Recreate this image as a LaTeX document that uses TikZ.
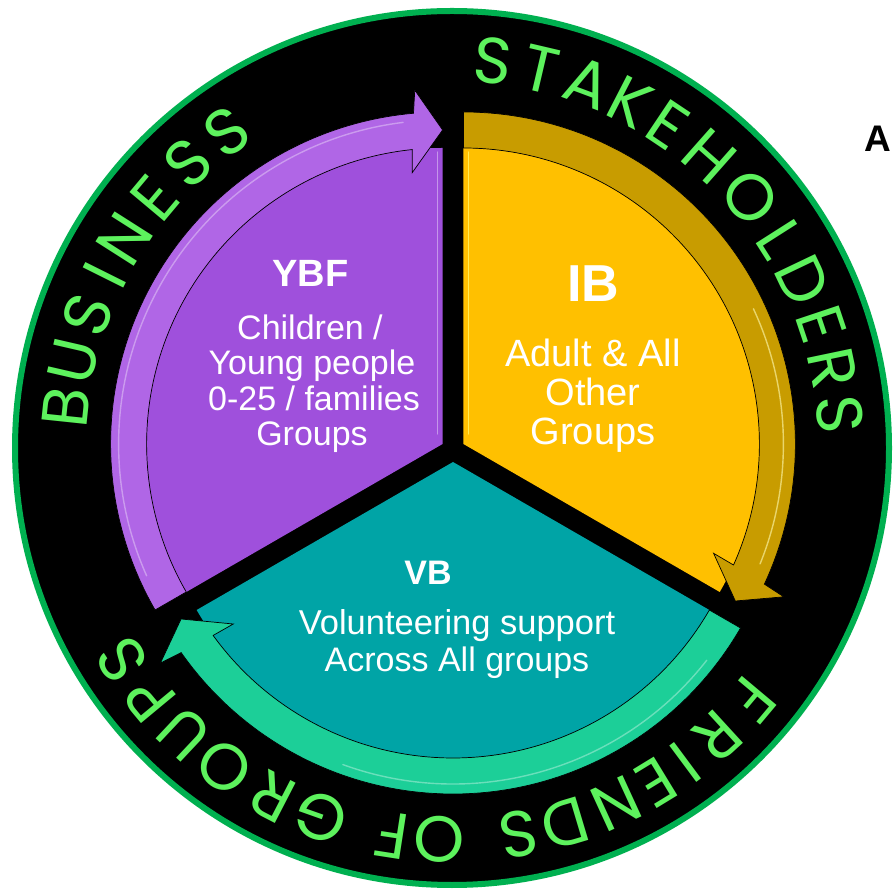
\documentclass[tikz,border=0pt]{standalone}
\usepackage{fontspec}
\setmainfont{Liberation Sans}
\newfontfamily\ringfont{Poppins}
\usetikzlibrary{calc}
\definecolor{ringgreen}{HTML}{00B050}
\definecolor{txtgreen}{HTML}{5DF25D}
\definecolor{purplefill}{HTML}{9F50DC}
\definecolor{purpleband}{HTML}{B066E6}
\definecolor{goldfill}{HTML}{FFC000}
\definecolor{goldband}{HTML}{C89C00}
\definecolor{tealfill}{HTML}{00A4A6}
\definecolor{tealband}{HTML}{1CCF98}
\newcommand\gelband[4]{%
  \path[shift={(#1)}, fill=#4, draw=black, line width=0.7pt, line join=miter]
    (#2:332) arc[start angle=#2, end angle={#3+5.03}, radius=332]
    -- ({#3+4.5}:355) -- (#3:314) -- ({#3+6.4}:273) -- ({#3+5.87}:296)
    arc[start angle={#3+5.87}, end angle=#2, radius=296] -- cycle;}
\begin{document}
\begin{tikzpicture}[x=1pt,y=1pt,
  ringletter/.style={font=\ringfont\fontsize{65}{65}\selectfont, text=txtgreen, inner sep=0pt, anchor=center},
  bodytext/.style={text=white, inner sep=0pt, anchor=base},
  glint/.style={line width=1.4pt, line cap=round}]
\useasboundingbox (0,0) rectangle (893,891);
\clip (0,0) rectangle (893,891);
\fill[white] (0,0) rectangle (893,891);
\coordinate (O) at (452,443);
\coordinate (C) at (453,441);
\coordinate (pap) at ($(C)+(150:12)$);
\coordinate (yap) at ($(C)+(30:12)$);
\coordinate (tap) at ($(C)+(270:12)$);
% disc
\fill[black] (O) circle[radius=437];
\draw[ringgreen, line width=6pt] (O) circle[radius=437];
% sectors
\fill[purplefill] (pap) -- ($(pap)+(90:296)$) arc[start angle=90, end angle=210, radius=296] -- cycle;
\fill[goldfill] (yap) -- ($(yap)+(-30:296)$) arc[start angle=-30, end angle=90, radius=296] -- cycle;
\fill[tealfill] (tap) -- ($(tap)+(210:296)$) arc[start angle=210, end angle=330, radius=296] -- cycle;
% edge glints
\draw[glint, draw=white, opacity=0.4] ($(pap)+(90:10)+(-5,0)$) -- ($(pap)+(90:292)+(-5,0)$);
\draw[glint, draw=yellow!60!white, opacity=0.8] ($(yap)+(90:10)+(5,0)$) -- ($(yap)+(90:292)+(5,0)$);
% arrow bands
\gelband{pap}{210}{90}{purpleband}
\gelband{yap}{90}{-30}{goldband}
\gelband{tap}{330}{210}{tealband}
% band glints
\draw[glint, draw=white, opacity=0.35, shift={(pap)}] (204:324) arc[start angle=204, end angle=97, radius=324];
\draw[glint, draw=yellow!30!white, opacity=0.6, shift={(yap)}] (25:320) arc[start angle=25, end angle=-22, radius=320];
\draw[glint, draw=white, opacity=0.35, shift={(tap)}] (322:322) arc[start angle=322, end angle=250, radius=322];
% purple texts
\node[bodytext, font=\bfseries\fontsize{38}{38}\selectfont] (ybf) at (310.5,604) {YBF};
\node[bodytext, font=\fontsize{34}{34}\selectfont] (p1) at (310,551) {Children /};
\node[bodytext, font=\fontsize{34}{34}\selectfont] (p2) at (312,516) {Young people};
\node[bodytext, font=\fontsize{34}{34}\selectfont] (p3) at (314,480) {0-25 / families};
\node[bodytext, font=\fontsize{34}{34}\selectfont] (p4) at (312,445) {Groups};
% yellow texts
\node[bodytext, font=\bfseries\fontsize{52}{52}\selectfont] (ib) at (593.5,589) {IB};
\node[bodytext, font=\fontsize{38}{38}\selectfont] (y1) at (593,524) {Adult \& All};
\node[bodytext, font=\fontsize{38}{38}\selectfont] (y2) at (593,485) {Other};
\node[bodytext, font=\fontsize{38}{38}\selectfont] (y3) at (593,446) {Groups};
% teal texts
\node[bodytext, font=\bfseries\fontsize{34}{34}\selectfont] (vb) at (428,306) {VB};
\node[bodytext, font=\fontsize{34.5}{34.5}\selectfont] (t1) at (457,256) {Volunteering support};
\node[bodytext, font=\fontsize{34}{34}\selectfont] (t2) at (457,219) {Across All groups};
% ring texts
\foreach \ch/\a [count=\i] in {B/174,U/167,S/160,I/153.5,N/147.5,E/140,S/132.8,S/125.5}
  \node[ringletter, rotate=\a-90] (bus\i) at ($(O)+(\a:388)$) {\ch};
\foreach \ch/\a [count=\i] in {S/84,T/76.8,A/69.6,K/62.8,E/56.2,H/48.5,O/40,L/32.5,D/25.5,E/18.5,R/11.8,S/5}
  \node[ringletter, rotate=\a-90] (stk\i) at ($(O)+(\a:389)$) {\ch};
\foreach \ch/\a [count=\i] in {F/-40,R/-47.5,I/-53.4,E/-58.6,N/-65.3,D/-73.3,S/-80.3,O/-91.9,F/-98.8,G/-109.5,R/-117.3,O/-125.5,U/-133.2,P/-140.3,S/-147.4}
  \node[ringletter, rotate=\a-90] (frd\i) at ($(O)+(\a:392)$) {\ch};
% side label
\node[anchor=base west, inner sep=0pt, font=\bfseries\fontsize{37}{37}\selectfont] (lbl) at (864,739) {A};
\end{tikzpicture}
\end{document}
